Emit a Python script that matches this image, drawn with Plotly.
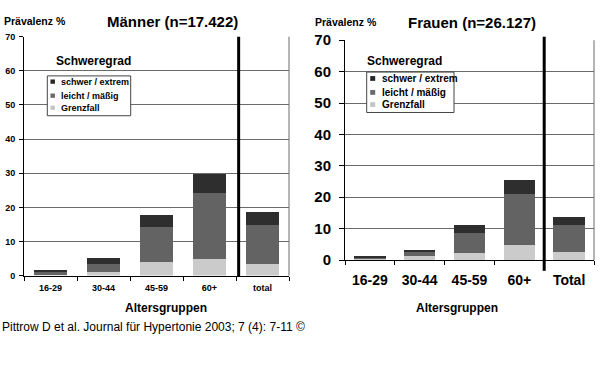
import plotly.graph_objects as go

# ---- data ----
categories_m = ["16-29", "30-44", "45-59", "60+", "total"]
categories_f = ["16-29", "30-44", "45-59", "60+", "Total"]
series_names = ["Grenzfall", "leicht / mäßig", "schwer / extrem"]
m_grenz = [0.3, 1.2, 4.0, 5.0, 3.5]
m_leicht = [0.8, 2.3, 10.2, 19.3, 11.2]
m_schwer = [0.6, 1.7, 3.7, 5.6, 3.8]
f_grenz = [0.3, 1.2, 2.4, 4.8, 2.7]
f_leicht = [0.5, 1.3, 6.2, 16.1, 8.5]
f_schwer = [0.3, 0.75, 2.4, 4.6, 2.6]
y_ticks = [0, 10, 20, 30, 40, 50, 60, 70]

W, H = 600, 383
FONT = "Liberation Sans, Arial, sans-serif"
colors = ["#cbcbcb", "#636363", "#2e2e2e"]


def px(x):
    return x / W


def py(y):
    return (H - y) / H


fig = go.Figure()
for name, vals, col in zip(series_names, [m_grenz, m_leicht, m_schwer], colors):
    fig.add_trace(go.Bar(x=categories_m, y=vals, name=name, marker=dict(color=col, line=dict(width=0)),
                         width=0.63, xaxis="x", yaxis="y", showlegend=False))
for name, vals, col in zip(series_names, [f_grenz, f_leicht, f_schwer], colors):
    fig.add_trace(go.Bar(x=categories_f, y=vals, name=name, marker=dict(color=col, line=dict(width=0)),
                         width=0.63, xaxis="x2", yaxis="y2", showlegend=False))

bold = dict(family=FONT, color="black", weight="bold")

xcommon = dict(type="category", range=[-0.5, 4.5], tickson="boundaries", ticks="outside",
               tickcolor="black", showline=True, linecolor="black", linewidth=1,
               showgrid=False, zeroline=False, fixedrange=True)
ycommon = dict(range=[0, 70], tickvals=y_ticks, ticks="outside", tickcolor="black",
               showline=True, linecolor="black", linewidth=1, showgrid=True,
               gridcolor="#6a6a6a", gridwidth=1, zeroline=False, fixedrange=True)

fig.update_layout(
    width=W, height=H, autosize=False,
    margin=dict(l=0, r=0, t=0, b=0),
    paper_bgcolor="white", plot_bgcolor="white",
    barmode="stack", bargap=0.37,
    showlegend=False,
    xaxis=dict(xcommon, domain=[px(24), px(289)], anchor="y", ticklen=4,
               tickfont=dict(bold, size=9), categoryorder="array", categoryarray=categories_m,
               ticklabelstandoff=4),
    yaxis=dict(ycommon, domain=[py(279), py(29)], anchor="x", ticklen=4,
               tickfont=dict(bold, size=9), ticklabelstandoff=2),
    xaxis2=dict(xcommon, domain=[px(345), px(594)], anchor="y2", ticklen=4,
                tickfont=dict(bold, size=14), categoryorder="array", categoryarray=categories_f,
                ticklabelstandoff=7),
    yaxis2=dict(ycommon, domain=[py(262.7), py(32.7)], anchor="x2", ticklen=5,
                tickfont=dict(bold, size=15), ticklabelstandoff=5),
)

shapes = []
# right borders of plot areas
for xr, yr in [("x domain", "y domain"), ("x2 domain", "y2 domain")]:
    shapes.append(dict(type="line", xref=xr, yref=yr, x0=1, x1=1, y0=0, y1=1,
                       line=dict(color="#6a6a6a", width=1), layer="above"))
# thick separators before "total"
shapes.append(dict(type="line", xref="x", yref="paper", x0=3.55, x1=3.55, y0=py(280), y1=py(29),
                   line=dict(color="black", width=3), layer="above"))
shapes.append(dict(type="line", xref="x2", yref="paper", x0=3.5, x1=3.5, y0=py(274), y1=py(29),
                   line=dict(color="black", width=3), layer="above"))

annotations = []
# titles
annotations.append(dict(text="Männer (n=17.422)", x=px(172), y=py(13), xref="paper", yref="paper",
                        showarrow=False, font=dict(bold, size=15), xanchor="center", yanchor="middle"))
annotations.append(dict(text="Frauen (n=26.127)", x=px(472), y=py(14), xref="paper", yref="paper",
                        showarrow=False, font=dict(bold, size=15), xanchor="center", yanchor="middle"))
# y axis titles
for x0, y0 in [(2, 12.7), (313, 14)]:
    annotations.append(dict(text="Prävalenz %", x=px(x0), y=py(y0), xref="paper", yref="paper",
                            showarrow=False, font=dict(bold, size=10.5), xanchor="left", yanchor="middle"))
# x axis titles
for x0, y0 in [(165.5, 312.7), (456.7, 312.7)]:
    annotations.append(dict(text="Altersgruppen", x=px(x0), y=py(y0), xref="paper", yref="paper",
                            showarrow=False, font=dict(bold, size=12), xanchor="center", yanchor="middle"))

# manual legends (drawn as in the original: title above a small framed key)
legend_specs = [
    dict(title_x=54, title_y=54, box=(47.3, 70, 130.7, 111.7), sw_x=52.7, sw=4.5, txt_x=59,
         ys=[76, 90.7, 103.3], size=9),
    dict(title_x=365, title_y=54, box=(366.7, 66, 454, 108.3), sw_x=372.7, sw=5, txt_x=380,
         ys=[72.7, 87.3, 100], size=10),
]
legend_colors = ["#262626", "#6a6a6a", "#c4c4c4"]
legend_labels = list(reversed(series_names))
for spec in legend_specs:
    annotations.append(dict(text="Schweregrad", x=px(spec["title_x"]), y=py(spec["title_y"]),
                            xref="paper", yref="paper", showarrow=False, font=dict(bold, size=12),
                            xanchor="left", yanchor="middle"))
    x0, y0, x1, y1 = spec["box"]
    shapes.append(dict(type="rect", xref="paper", yref="paper", x0=px(x0), x1=px(x1), y0=py(y1), y1=py(y0),
                       fillcolor="white", line=dict(color="#444444", width=1), layer="above"))
    for lab, col, yy in zip(legend_labels, legend_colors, spec["ys"]):
        s = spec["sw"] / 2
        shapes.append(dict(type="rect", xref="paper", yref="paper",
                           x0=px(spec["sw_x"] - s), x1=px(spec["sw_x"] + s),
                           y0=py(yy + s), y1=py(yy - s),
                           fillcolor=col, line=dict(width=0), layer="above"))
        annotations.append(dict(text=lab, x=px(spec["txt_x"]), y=py(yy), xref="paper", yref="paper",
                                showarrow=False, font=dict(bold, size=spec["size"]),
                                xanchor="left", yanchor="middle"))

# footer
annotations.append(dict(text="Pittrow D et al. Journal für Hypertonie 2003; 7 (4): 7-11 ©",
                        x=0, y=py(333), xref="paper", yref="paper", showarrow=False,
                        font=dict(family=FONT, size=12, color="black"), xanchor="left", yanchor="middle"))

fig.update_layout(shapes=shapes, annotations=annotations)
fig.write_html(
    "out.html",
    config={"displayModeBar": False},
    post_script="document.documentElement.style.margin='0';document.documentElement.style.overflow='hidden';"
                "document.body.style.margin='0';document.body.style.padding='0';document.body.style.overflow='hidden';",
)
